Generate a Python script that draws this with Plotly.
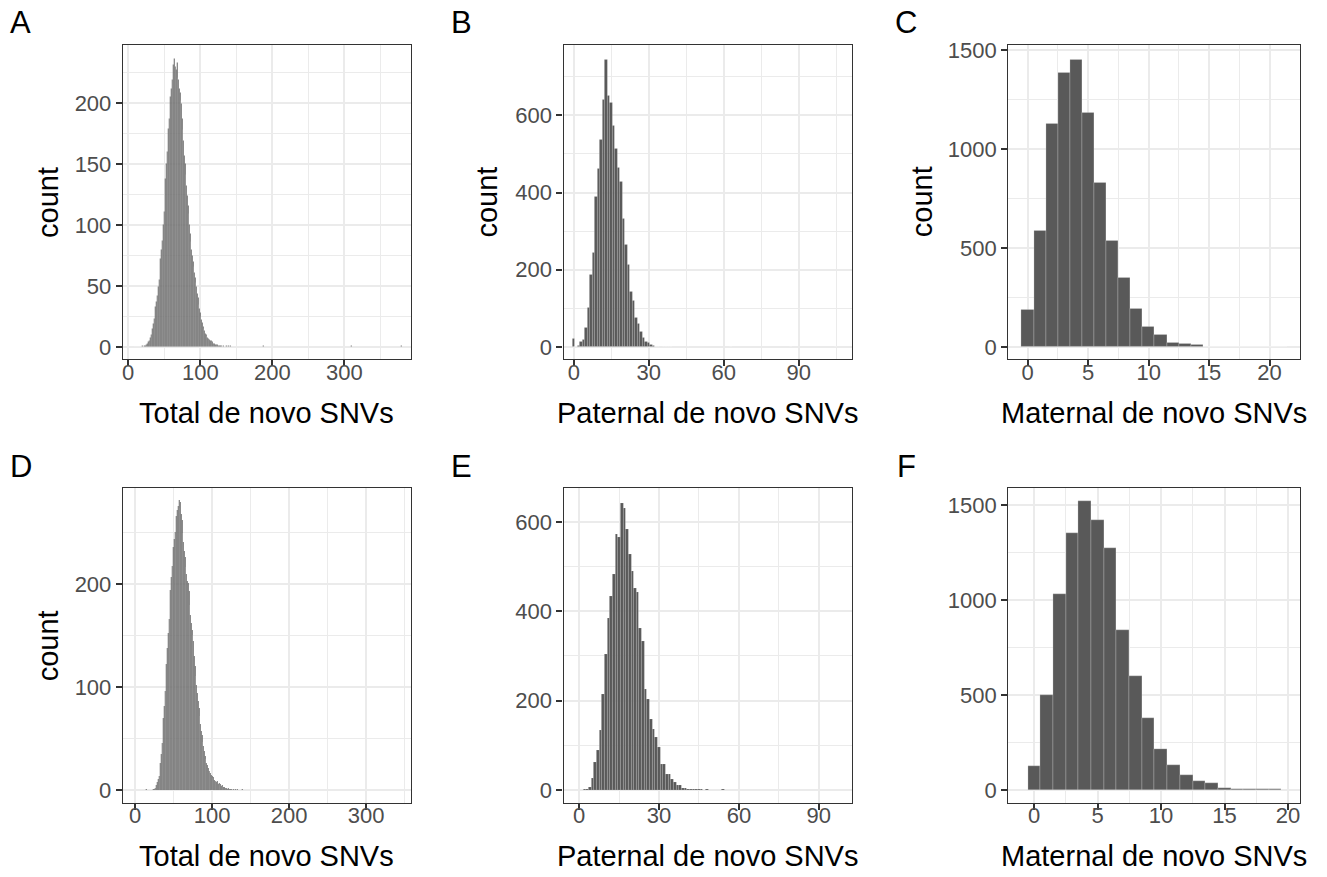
import plotly.graph_objects as go

# ---------------------------------------------------------------------------
# Histogram counts (bin width = 1 SNV, bins centred on integers)
# ---------------------------------------------------------------------------

# Panel A: total de novo SNVs, first cohort (bins 8..142) plus isolated outliers
total_1_start = 8
total_1_counts = [
    1, 0, 0, 0, 1, 0, 0, 0, 0, 0, 0, 0, 1, 0, 1, 1, 1, 2, 3, 3,
    4, 5, 7, 8, 10, 12, 15, 19, 23, 28, 33, 37, 42, 46, 49, 55, 62, 72, 80, 87,
    94, 100, 111, 124, 138, 150, 160, 170, 179, 187, 196, 205, 212, 219, 225, 231, 236, 230, 235, 227,
    233, 221, 219, 212, 208, 202, 199, 187, 178, 169, 157, 150, 141, 132, 124, 116, 109, 100, 93, 86,
    80, 75, 70, 66, 61, 57, 53, 49, 44, 40, 35, 31, 28, 25, 22, 20, 17, 15, 13, 11,
    10, 9, 8, 7, 6, 6, 5, 5, 4, 4, 3, 3, 3, 2, 2, 2, 2, 1, 2, 1,
    1, 1, 1, 0, 1, 0, 1, 0, 1, 0, 0, 1, 0, 0, 1,
]
total_1_outlier_bins = [188, 310, 379]
total_1_outlier_counts = [1, 1, 1]

# Panel B: paternal de novo SNVs, first cohort
paternal_1_bins = list(range(0, 35)) + [36, 37, 38, 39, 46, 63, 87, 105]
paternal_1_counts = [
    21, 0, 3, 13, 20, 50, 101, 187, 245, 388,
    461, 536, 641, 744, 651, 632, 572, 514, 465, 427,
    332, 264, 212, 144, 120, 75, 60, 39, 24, 13,
    11, 5, 4, 2, 2,
    1, 1, 1, 1, 1, 1, 1, 1,
]

# Panel C: maternal de novo SNVs, first cohort
maternal_1_bins = list(range(0, 22))
maternal_1_counts = [
    189, 586, 1126, 1385, 1450, 1181, 830, 536, 352, 194,
    102, 60, 22, 17, 12, 3, 2, 2, 1, 1, 1, 1,
]

# Panel D: total de novo SNVs, second cohort (bins 15..139)
total_2_start = 15
total_2_counts = [
    1, 0, 0, 0, 0, 0, 0, 0, 1, 1, 1, 2, 3, 5, 8, 11, 14, 19, 26, 35,
    46, 58, 70, 82, 96, 108, 122, 138, 152, 166, 180, 194, 207, 217, 226, 236, 244, 250, 258, 266,
    272, 276, 281, 274, 279, 268, 262, 249, 241, 232, 226, 216, 210, 203, 201, 193, 180, 170, 162, 155,
    150, 145, 130, 120, 111, 102, 94, 86, 80, 72, 64, 57, 53, 47, 43, 38, 33, 30, 26, 24,
    21, 19, 22, 17, 15, 14, 12, 13, 10, 9, 11, 8, 9, 6, 7, 5, 6, 4, 5, 3,
    3, 3, 2, 2, 2, 1, 2, 1, 1, 1, 1, 0, 1, 1, 0, 1, 0, 0, 1, 0,
    0, 0, 0, 0, 1,
]

# Panel E: paternal de novo SNVs, second cohort
paternal_2_bins = list(range(2, 47)) + [48, 54]
paternal_2_counts = [
    1, 2, 6, 26, 63, 89, 134, 215, 305, 385,
    433, 483, 572, 565, 643, 631, 585, 527, 490, 451,
    444, 363, 333, 225, 203, 158, 136, 119, 95, 58,
    58, 36, 36, 24, 17, 10, 11, 4, 3, 2,
    2, 1, 1, 1, 1, 1, 1,
]

# Panel F: maternal de novo SNVs, second cohort
maternal_2_bins = list(range(0, 20))
maternal_2_counts = [
    125, 500, 1030, 1356, 1521, 1424, 1272, 845, 602, 377,
    217, 132, 79, 49, 35, 11, 5, 2, 5, 2,
]

# Axis labels
x_titles = ["Total de novo SNVs", "Paternal de novo SNVs", "Maternal de novo SNVs"] * 2
panel_letters = ["A", "B", "C", "D", "E", "F"]

# ---------------------------------------------------------------------------
# Assemble series
# ---------------------------------------------------------------------------
total_1_bins = [total_1_start + i for i in range(len(total_1_counts))] + total_1_outlier_bins
total_1_all = total_1_counts + total_1_outlier_counts
total_2_bins = [total_2_start + i for i in range(len(total_2_counts))]

series = [
    (total_1_bins, total_1_all),
    (paternal_1_bins, paternal_1_counts),
    (maternal_1_bins, maternal_1_counts),
    (total_2_bins, total_2_counts),
    (paternal_2_bins, paternal_2_counts),
    (maternal_2_bins, maternal_2_counts),
]

# ---------------------------------------------------------------------------
# Layout geometry (pixels in a 1327 x 877 canvas)
# ---------------------------------------------------------------------------
W, H = 1327, 877
col_px = [(122, 410), (563, 852), (1008, 1300)]
row_px = [(38, 355), (485, 802)]

x_ranges = [[-7.4, 392], [-4.1, 111.5], [-1.61, 22.52],
            [-16, 358], [-5.85, 102.6], [-2.04, 20.95]]
y_ranges = [[-10, 247.7], [-31.6, 783], [-61.6, 1526.5],
            [-12, 293], [-28.3, 675.8], [-66.6, 1590.7]]
x_dticks = [100, 30, 5, 100, 30, 5]
y_dticks = [50, 200, 500, 100, 200, 500]
show_count = [True, True, True, True, False, False]
count_offset = [75, 77, 86, 75, 0, 0]

FONT = "Liberation Sans, Arial, Helvetica, sans-serif"
BAR_FILL = "#595959"
GRID = "#EBEBEB"
BORDER = "#333333"

# thin light seams between adjacent bins (per column of panels)
seam_width = [0.3, 0.4, 0.6]
seam_color = ["rgba(255,255,255,0.3)", "rgba(255,255,255,0.35)", "rgba(255,255,255,0.35)"]

fig = go.Figure()
annotations = []

for i, ((bins, counts), xr, yr) in enumerate(zip(series, x_ranges, y_ranges)):
    r, c = divmod(i, 3)
    x0, x1 = col_px[c]
    y0, y1 = row_px[r]
    sfx = "" if i == 0 else str(i + 1)
    fig.add_trace(go.Bar(
        x=bins, y=counts, width=1,
        marker=dict(color=BAR_FILL,
                    line=dict(color=seam_color[c], width=seam_width[c])),
        xaxis="x" + sfx, yaxis="y" + sfx, showlegend=False,
        hoverinfo="x+y",
    ))

    common = dict(
        showline=True, linecolor=BORDER, linewidth=1.3, mirror=True,
        ticks="outside", ticklen=6, tickwidth=1.5, tickcolor=BORDER,
        showgrid=True, gridcolor=GRID, gridwidth=2,
        zeroline=False, tickfont=dict(family=FONT, size=22, color="#4D4D4D"),
        tick0=0,
    )
    fig.update_layout(**{
        "xaxis" + sfx: dict(
            common, domain=[x0 / W, x1 / W], range=xr, dtick=x_dticks[i],
            anchor="y" + sfx, ticklabelstandoff=-13,
            minor=dict(dtick=x_dticks[i] / 2, tick0=0, showgrid=True,
                       gridcolor=GRID, gridwidth=1, ticks=""),
        ),
        "yaxis" + sfx: dict(
            common, domain=[1 - y1 / H, 1 - y0 / H], range=yr, dtick=y_dticks[i],
            anchor="x" + sfx,
            minor=dict(dtick=y_dticks[i] / 2, tick0=0, showgrid=True,
                       gridcolor=GRID, gridwidth=1, ticks=""),
        ),
    })

    # x-axis title
    annotations.append(dict(
        text=x_titles[i], xref="paper", yref="paper",
        x=(x0 + x1) / 2 / W, y=1 - (y1 + 54) / H,
        showarrow=False, xanchor="center", yanchor="middle",
        font=dict(family=FONT, size=29, color="black"),
    ))
    # y-axis title
    if show_count[i]:
        annotations.append(dict(
            text="count", xref="paper", yref="paper",
            x=(x0 - count_offset[i]) / W, y=1 - ((y0 + y1) / 2) / H,
            showarrow=False, textangle=-90, xanchor="center", yanchor="middle",
            font=dict(family=FONT, size=29, color="black"),
        ))
    # panel letter
    annotations.append(dict(
        text=panel_letters[i], xref="paper", yref="paper",
        x=(x0 - 102) / W, y=1 - (y0 - 22) / H,
        showarrow=False, xanchor="center", yanchor="middle",
        font=dict(family=FONT, size=31, color="black"),
    ))

fig.update_layout(
    width=W, height=H,
    margin=dict(l=0, r=0, t=0, b=0),
    paper_bgcolor="white", plot_bgcolor="white",
    bargap=0, barmode="overlay",
    annotations=annotations,
    font=dict(family=FONT),
)

fig.write_html("out.html", config={"displayModeBar": False})
